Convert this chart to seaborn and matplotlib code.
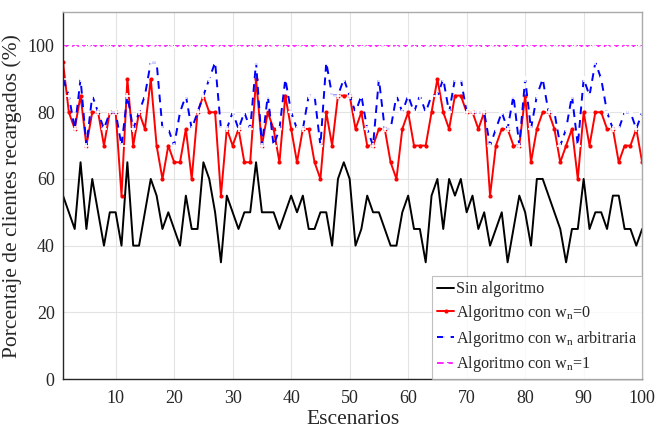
import numpy as np
import pandas as pd
import matplotlib
matplotlib.use("Agg")
import matplotlib.pyplot as plt
import seaborn as sns

# Scenario numbers and percentage of recharged clients per strategy
escenarios = list(range(1, 101))

sin_algoritmo = [
    55, 50, 45, 65, 45, 60, 50, 40, 50, 50,
    40, 65, 40, 40, 50, 60, 55, 45, 50, 45,
    40, 55, 45, 45, 65, 60, 50, 35, 55, 50,
    45, 50, 50, 65, 50, 50, 50, 45, 50, 55,
    50, 55, 45, 45, 50, 50, 40, 60, 65, 60,
    40, 45, 55, 50, 50, 45, 40, 40, 50, 55,
    45, 45, 35, 55, 60, 45, 60, 55, 60, 50,
    55, 45, 50, 40, 45, 50, 35, 45, 55, 50,
    40, 60, 60, 55, 50, 45, 35, 45, 45, 60,
    45, 50, 50, 45, 55, 55, 45, 45, 40, 45,
]

wn_cero = [
    95, 80, 75, 85, 70, 80, 80, 70, 80, 80,
    55, 90, 70, 80, 75, 90, 70, 60, 70, 65,
    65, 75, 60, 80, 85, 80, 80, 55, 75, 70,
    75, 65, 65, 90, 70, 80, 75, 65, 85, 75,
    65, 75, 75, 65, 60, 80, 70, 85, 85, 85,
    75, 80, 70, 70, 75, 75, 65, 60, 75, 80,
    70, 70, 70, 80, 90, 80, 75, 85, 85, 80,
    80, 75, 80, 55, 70, 75, 75, 70, 70, 85,
    65, 75, 80, 80, 75, 65, 70, 75, 60, 80,
    70, 80, 80, 75, 75, 65, 70, 70, 75, 65,
]

wn_arbitraria = [
    90, 85, 75, 90, 70, 85, 80, 75, 80, 80,
    70, 85, 75, 80, 85, 95, 95, 75, 75, 70,
    80, 85, 75, 80, 85, 90, 95, 75, 75, 80,
    75, 80, 75, 95, 70, 85, 70, 75, 90, 80,
    75, 75, 85, 85, 70, 95, 85, 85, 90, 85,
    80, 85, 75, 70, 90, 75, 75, 85, 80, 85,
    80, 85, 80, 85, 85, 90, 80, 90, 90, 80,
    80, 80, 80, 70, 75, 80, 75, 85, 70, 90,
    75, 85, 90, 80, 80, 70, 75, 85, 70, 90,
    85, 95, 90, 80, 75, 75, 80, 80, 75, 80,
]

wn_uno = [100] * 100

etiquetas = [
    "Sin algoritmo",
    r"Algoritmo con w$_{\mathrm{n}}$=0",
    r"Algoritmo con w$_{\mathrm{n}}$ arbitraria",
    r"Algoritmo con w$_{\mathrm{n}}$=1",
]

df = pd.DataFrame({
    "Escenario": escenarios,
    "sin": sin_algoritmo,
    "cero": wn_cero,
    "arb": wn_arbitraria,
    "uno": wn_uno,
})

sns.set_style("white")
plt.rcParams["font.family"] = ["Liberation Serif", "DejaVu Serif"]
plt.rcParams["mathtext.fontset"] = "custom"
plt.rcParams["mathtext.rm"] = "Liberation Serif"
plt.rcParams["mathtext.it"] = "Liberation Serif:italic"

fig = plt.figure(figsize=(6.57, 4.29), dpi=100)
ax = fig.add_axes([0.0959, 0.1165, 0.8815, 0.855])

sns.lineplot(data=df, x="Escenario", y="sin", ax=ax, color="black",
             linewidth=1.4, label=etiquetas[0])
sns.lineplot(data=df, x="Escenario", y="cero", ax=ax, color="#ff0000",
             linewidth=1.4, marker="o", markersize=3, markeredgewidth=0,
             label=etiquetas[1])
sns.lineplot(data=df, x="Escenario", y="arb", ax=ax, color="#0000ff",
             linewidth=1.4, linestyle=(0, (4, 3)), marker="+", markersize=4,
             markeredgewidth=1.2, label=etiquetas[2])
sns.lineplot(data=df, x="Escenario", y="uno", ax=ax, color="#ff00ff",
             linewidth=1.2, linestyle=(0, (4, 1.5)), marker="+", markersize=3,
             markeredgewidth=0.8, label=etiquetas[3])

ax.set_xlim(1, 100)
ax.set_ylim(0, 110)
ax.set_xticks([10, 20, 30, 40, 50, 60, 70, 80, 90, 100])
ax.set_yticks([0, 20, 40, 60, 80, 100])
ax.grid(True, color="#e3e3e3", linewidth=0.8)
ax.set_axisbelow(True)
ax.tick_params(axis="both", labelsize=13, direction="in", length=4,
               color="#262626")
ax.tick_params(axis="x", pad=8)
ax.tick_params(axis="y", pad=6)
for s in ax.spines.values():
    s.set_color("#aaaaaa")
    s.set_linewidth(1.0)
ax.spines["left"].set_color("#262626")
ax.spines["bottom"].set_color("#262626")

ax.set_xlabel("Escenarios", fontsize=15.5, labelpad=2)
ax.set_ylabel("Porcentaje de clientes recargados (%)", fontsize=15.5, labelpad=4)

leg = ax.legend(loc="lower right", borderaxespad=0, fontsize=11.6,
                handlelength=1.1, handletextpad=0.1, labelspacing=0.35,
                frameon=True, fancybox=False, borderpad=0.3)
leg.get_frame().set_edgecolor("#b0b0b0")
leg.get_frame().set_linewidth(0.8)

fig.savefig("out.png", dpi=100)
